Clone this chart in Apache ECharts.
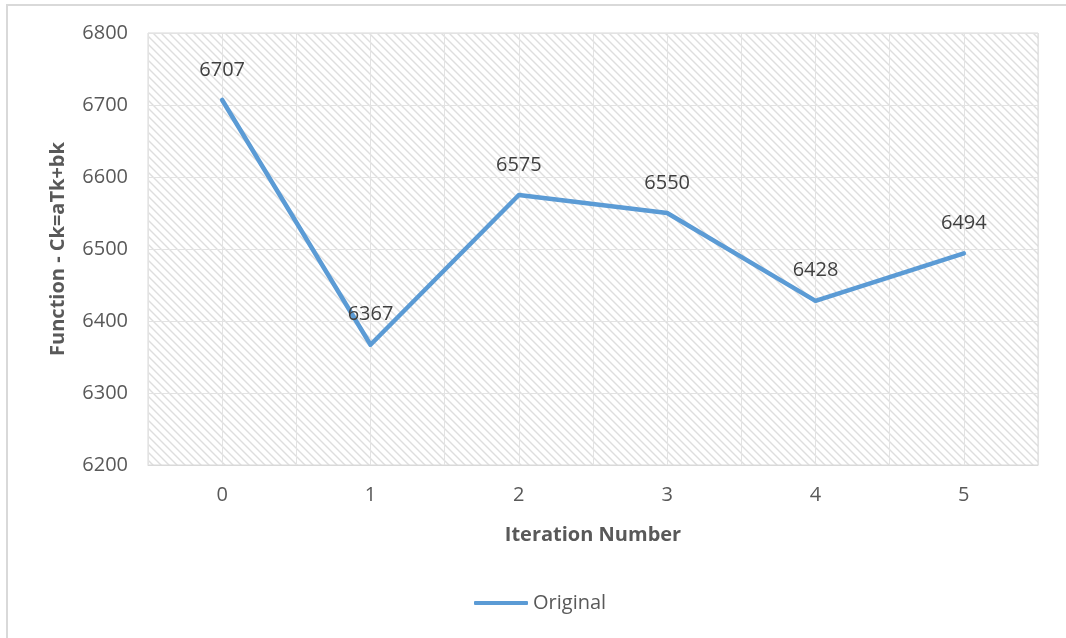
<!DOCTYPE html>
<html>
<head>
<meta charset="utf-8">
<script src="https://cdn.jsdelivr.net/npm/echarts@6/dist/echarts.min.js"></script>
<style>
  html, body { margin: 0; padding: 0; background: #fff; }
  #chart { width: 1066px; height: 638px; }
</style>
</head>
<body>
<div id="chart"></div>
<script>
// Iteration results for the cost function Ck = aTk + bk
const iterations = ['0', '1', '2', '3', '4', '5'];
const originalValues = [6707, 6367, 6575, 6550, 6428, 6494];
const yTicks = [6200, 6300, 6400, 6500, 6600, 6700, 6800];

// Diagonal hatch tile used to fill the plot area
function hatchTile() {
  const size = 8;
  const c = document.createElement('canvas');
  c.width = size; c.height = size;
  const g = c.getContext('2d');
  g.fillStyle = '#ffffff';
  g.fillRect(0, 0, size, size);
  g.strokeStyle = '#dedede';
  g.lineWidth = 1.4;
  g.beginPath();
  g.moveTo(-2, -2); g.lineTo(size + 2, size + 2);
  g.moveTo(-2, size - 2); g.lineTo(2, size + 2);
  g.moveTo(size - 2, -2); g.lineTo(size + 2, 2);
  g.stroke();
  return c;
}

const chart = echarts.init(document.getElementById('chart'), null, { renderer: 'canvas' });
const font = '"Open Sans", "Noto Sans", sans-serif';
const fs = 20;
const lineColor = '#5b9bd5';

chart.setOption({
  animation: false,
  backgroundColor: '#ffffff',
  textStyle: { fontFamily: font },
  graphic: [{
    type: 'rect',
    shape: { x: 7, y: 5, width: 1080, height: 660 },
    style: { fill: 'none', stroke: '#d9d9d9', lineWidth: 2 },
    silent: true
  }],
  grid: {
    left: 148, right: 28, top: 33, bottom: 173,
    show: true,
    backgroundColor: { image: hatchTile(), repeat: 'repeat' },
    borderColor: '#d9d9d9',
    borderWidth: 1
  },
  legend: {
    bottom: 20,
    left: 469,
    itemWidth: 54,
    itemHeight: 4,
    itemGap: 10,
    icon: 'roundRect',
    itemStyle: { color: lineColor, opacity: 1 },
    textStyle: { color: '#595959', fontSize: fs, fontFamily: font },
    data: ['Original']
  },
  xAxis: [{
    type: 'category',
    data: iterations,
    boundaryGap: true,
    name: 'Iteration Number',
    nameLocation: 'middle',
    nameGap: 60,
    nameTextStyle: { color: '#595959', fontSize: fs, fontWeight: 'bold', fontFamily: font },
    axisLine: { show: true, lineStyle: { color: '#d9d9d9', width: 1 } },
    axisTick: { show: false },
    axisLabel: { color: '#595959', fontSize: fs, margin: 20, fontFamily: font },
    splitLine: { show: false }
  }, {
    // helper axis that only draws the vertical gridlines every half step
    type: 'value',
    min: 0, max: 12, interval: 1,
    position: 'bottom',
    show: true,
    axisLine: { show: false },
    axisTick: { show: false },
    axisLabel: { show: false },
    splitLine: { show: true, lineStyle: { color: '#e3e3e3', width: 1 } }
  }],
  yAxis: {
    type: 'value',
    min: yTicks[0],
    max: yTicks[yTicks.length - 1],
    interval: 100,
    name: 'Function - Ck=aTk+bk',
    nameLocation: 'middle',
    nameGap: 80,
    nameTextStyle: { color: '#595959', fontSize: fs, fontWeight: 'bold', fontFamily: font },
    axisLine: { show: false },
    axisTick: { show: false },
    axisLabel: { color: '#595959', fontSize: fs, margin: 20, fontFamily: font, formatter: v => String(v) },
    splitLine: { show: true, lineStyle: { color: '#e3e3e3', width: 1 } }
  },
  series: [{
    name: 'Original',
    type: 'line',
    xAxisIndex: 0,
    data: originalValues,
    showSymbol: true,
    symbol: 'circle',
    symbolSize: 0.1,
    lineStyle: { color: lineColor, width: 4.5, cap: 'round', join: 'round' },
    itemStyle: { color: lineColor },
    label: {
      show: true,
      position: 'top',
      distance: 20,
      color: '#404040',
      fontSize: fs,
      fontFamily: font
    },
    z: 3
  }]
});
</script>
</body>
</html>
